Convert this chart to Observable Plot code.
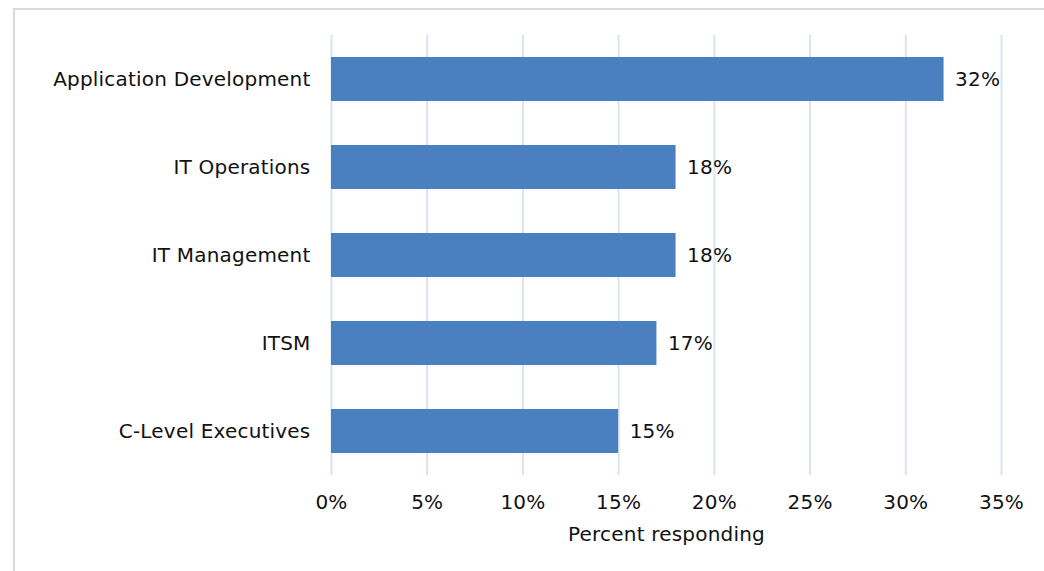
<!DOCTYPE html>
<html>
<head>
<meta charset="utf-8">
<script src="https://cdn.jsdelivr.net/npm/d3@7"></script>
<script src="https://cdn.jsdelivr.net/npm/@observablehq/plot@0.6"></script>
<style>
  html, body { margin: 0; padding: 0; background: #fff; overflow: hidden; }
  #wrap { position: relative; width: 1044px; height: 571px; }
  #border { position: absolute; left: 13px; top: 8px; width: 1100px; height: 620px; border: 2px solid #d9d9d9; pointer-events: none; box-sizing: border-box; }
</style>
</head>
<body>
<div id="wrap"><div id="border"></div></div>
<script>
const categories = ["Application Development", "IT Operations", "IT Management", "ITSM", "C-Level Executives"];
const values = [0.32, 0.18, 0.18, 0.17, 0.15];
const xTicks = [0, 0.05, 0.10, 0.15, 0.20, 0.25, 0.30, 0.35];
const xLabel = "Percent responding";

const data = categories.map((c, i) => ({category: c, value: values[i]}));
const pct = d3.format(".0%");
const FS = 20;

const chart = Plot.plot({
  width: 1044,
  height: 571,
  marginLeft: 331,
  marginRight: 43,
  marginTop: 35,
  marginBottom: 96,
  style: {fontFamily: "'DejaVu Sans', Verdana, sans-serif", fontSize: FS + "px", color: "#111", background: "transparent", letterSpacing: "0.2px"},
  x: {domain: [0, 0.35], ticks: xTicks, tickFormat: pct},
  y: {domain: categories, paddingInner: 0.5, paddingOuter: 0.25, align: 0.5},
  marks: [
    Plot.gridX(xTicks, {stroke: "#d6e4f4", strokeOpacity: 1, strokeWidth: 2}),
    Plot.barX(data, {x: "value", y: "category", fill: "#4a80c0"}),
    Plot.text(data, {x: "value", y: "category", text: d => pct(d.value), textAnchor: "start", dx: 11, fill: "#111", fontSize: FS}),
    Plot.axisY({tickSize: 0, tickPadding: 21, label: null, fontSize: FS}),
    Plot.axisX({ticks: xTicks, tickFormat: pct, tickSize: 0, tickPadding: 19, fontSize: FS, label: xLabel, labelAnchor: "center", labelArrow: "none", labelOffset: 65})
  ]
});
document.getElementById("wrap").appendChild(chart);
chart.style.position = "absolute";
chart.style.left = "0";
chart.style.top = "0";
</script>
</body>
</html>
